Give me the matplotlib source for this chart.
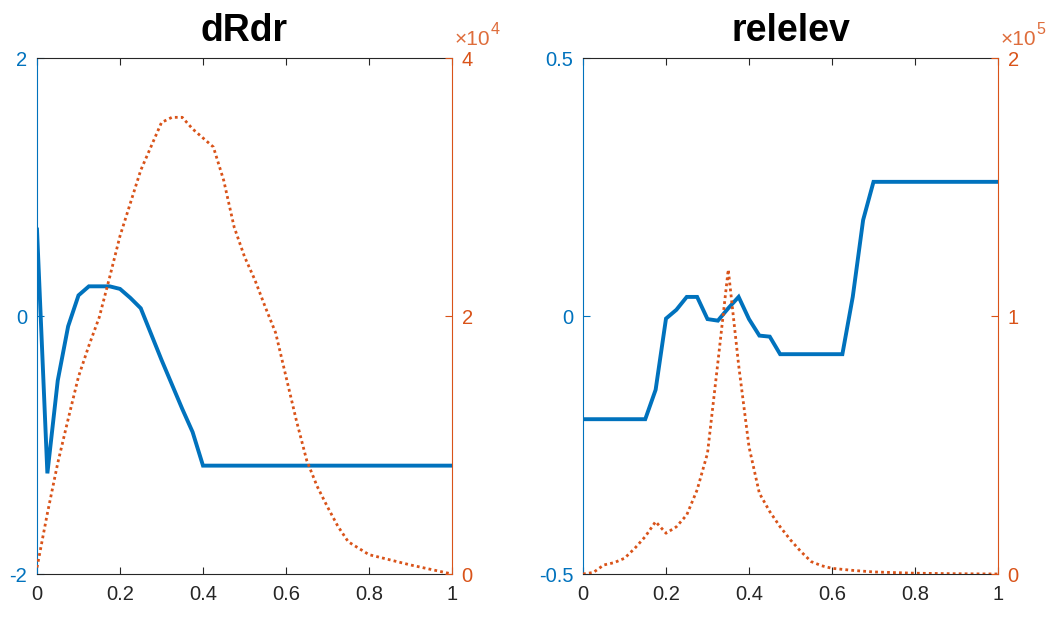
import matplotlib
matplotlib.use("Agg")
import matplotlib.pyplot as plt
from matplotlib.ticker import FuncFormatter

plt.rcParams['font.family'] = ['Liberation Sans', 'DejaVu Sans']

# matlab-ish default colours
BLUE = (0.0, 0.447, 0.741)
ORANGE = (0.85, 0.325, 0.098)
GREY = (0.15, 0.15, 0.15)

# --- dRdr panel ---
drdr_x = [0, 0.025, 0.05, 0.075, 0.1, 0.125, 0.175, 0.2, 0.225, 0.25, 0.3, 0.35, 0.375, 0.4, 1.0]
drdr_y = [0.67, -1.22, -0.5, -0.08, 0.16, 0.23, 0.23, 0.21, 0.14, 0.06, -0.34, -0.72, -0.9, -1.16, -1.16]

drdr_cnt_x = [0, 0.025, 0.05, 0.075, 0.1, 0.125, 0.15, 0.175, 0.2, 0.25, 0.3, 0.325, 0.35, 0.375,
              0.4, 0.425, 0.45, 0.475, 0.5, 0.525, 0.55, 0.575, 0.6, 0.625, 0.65, 0.675, 0.7,
              0.725, 0.75, 0.8, 0.9, 1.0]
drdr_cnt = [500, 4700, 8600, 12000, 15300, 17700, 19900, 23000, 26200, 31300, 35000, 35400, 35400, 34500,
            33800, 33100, 30500, 26900, 24600, 22800, 20700, 18700, 15300, 11900, 8800, 6800, 5200,
            3700, 2500, 1500, 700, 0]

# --- relelev panel ---
rel_x = [0, 0.15, 0.175, 0.2, 0.225, 0.25, 0.275, 0.3, 0.325, 0.35, 0.375, 0.4, 0.425, 0.45,
         0.475, 0.625, 0.65, 0.675, 0.7, 1.0]
rel_y = [-0.2, -0.2, -0.143, -0.005, 0.012, 0.037, 0.037, -0.006, -0.009, 0.015, 0.037, -0.006,
         -0.038, -0.04, -0.074, -0.074, 0.037, 0.186, 0.26, 0.26]

rel_cnt_x = [0, 0.025, 0.05, 0.075, 0.1, 0.125, 0.15, 0.175, 0.2, 0.225, 0.25, 0.275, 0.3, 0.325,
             0.35, 0.375, 0.4, 0.425, 0.45, 0.475, 0.5, 0.525, 0.55, 0.575, 0.6, 0.65, 0.7,
             0.8, 0.9, 1.0]
rel_cnt = [0, 600, 3500, 4400, 6100, 10000, 14500, 20300, 15800, 18300, 22900, 32600, 46800, 82000,
           118000, 81000, 49300, 31300, 24200, 18300, 13200, 8700, 4800, 3200, 2200, 1400, 800,
           300, 100, 0]

panels = [
    dict(title='dRdr', x=drdr_x, y=drdr_y, cx=drdr_cnt_x, c=drdr_cnt,
         ylim=(-2, 2), yticks=[-2, 0, 2], cmax=4e4, cticks=[0, 2e4, 4e4], exp=4,
         left=37),
    dict(title='relelev', x=rel_x, y=rel_y, cx=rel_cnt_x, c=rel_cnt,
         ylim=(-0.5, 0.5), yticks=[-0.5, 0, 0.5], cmax=2e5, cticks=[0, 1e5, 2e5], exp=5,
         left=583),
]

W, H = 1062, 623
fig = plt.figure(figsize=(W / 100, H / 100), dpi=100)
fig.patch.set_facecolor('white')

for p in panels:
    ax = fig.add_axes([p['left'] / W, 1 - 574 / H, 415 / W, 516 / H])
    ax2 = ax.twinx()

    ax.plot(p['x'], p['y'], color=BLUE, lw=2.8, solid_joinstyle='miter', zorder=2)
    ax2.plot(p['cx'], p['c'], color=ORANGE, lw=2.0, ls=(0, (1, 1.15)),
             dash_capstyle='butt', zorder=2)

    ax.set_xlim(0, 1)
    ax.set_ylim(*p['ylim'])
    ax2.set_ylim(0, p['cmax'])

    ax.set_xticks([0, 0.2, 0.4, 0.6, 0.8, 1])
    ax.xaxis.set_major_formatter(FuncFormatter(lambda v, _: f'{v:g}'))
    ax.set_yticks(p['yticks'])
    ax.yaxis.set_major_formatter(FuncFormatter(lambda v, _: f'{v:g}'))
    ax2.set_yticks(p['cticks'])
    e = p['exp']
    ax2.yaxis.set_major_formatter(FuncFormatter(lambda v, _, e=e: f'{v / 10**e:g}'))

    ax.tick_params(axis='x', direction='in', length=5, width=0.8, colors=GREY,
                   labelsize=14.5, pad=8, top=True)
    ax.tick_params(axis='y', direction='in', length=5, width=0.8, colors=BLUE,
                   labelsize=14.5, pad=7)
    ax2.tick_params(axis='y', direction='in', length=5, width=0.8, colors=ORANGE,
                    labelsize=14.5, pad=7)

    for s in ['top', 'bottom']:
        ax.spines[s].set_color(GREY)
        ax.spines[s].set_linewidth(0.8)
    ax.spines['left'].set_color(BLUE)
    ax.spines['left'].set_linewidth(0.8)
    ax.spines['right'].set_visible(False)
    for s in ['top', 'bottom', 'left']:
        ax2.spines[s].set_visible(False)
    ax2.spines['right'].set_color(ORANGE)
    ax2.spines['right'].set_linewidth(0.8)

    ax.set_title(p['title'], fontsize=27, fontweight='bold', pad=12)

    # exponent label above the right axis: "x10" plus a raised power
    ax2.text(1.005, 1.025, '\u00d710', transform=ax2.transAxes, color=ORANGE,
             fontsize=15, ha='left', va='baseline', alpha=0.85)
    ax2.text(1.092, 1.047, str(e), transform=ax2.transAxes, color=ORANGE,
             fontsize=11.5, ha='left', va='baseline', alpha=0.85)

fig.savefig('out.png', dpi=100, facecolor='white')
